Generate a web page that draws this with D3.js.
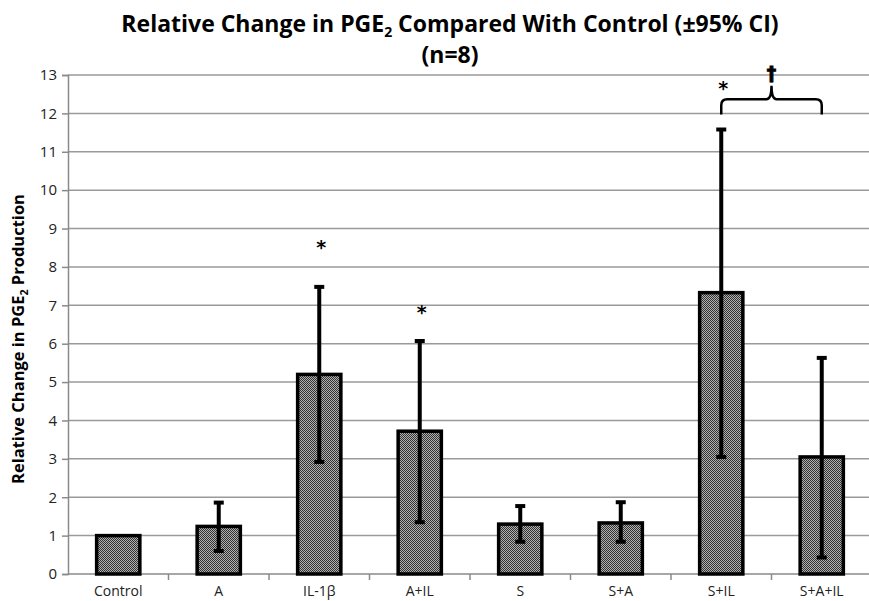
<!DOCTYPE html>
<html>
<head>
<meta charset="utf-8">
<script src="https://cdn.jsdelivr.net/npm/d3@7"></script>
<style>
  body { margin: 0; background: #fff; }
  svg { display: block; font-family: "Open Sans", "DejaVu Sans", sans-serif; }
</style>
</head>
<body>
<div id="chart"></div>
<script>
// Chart size and margins
const width = 869;
const height = 601;
const margin = {left: 68, right: -3, top: 75, bottom: 27};

// Data
const groups = ["Control", "A", "IL-1β", "A+IL", "S", "S+A", "S+IL", "S+A+IL"];
const means = [1.0, 1.24, 5.2, 3.72, 1.3, 1.33, 7.33, 3.05];
const ciLow = [1.0, 0.6, 2.92, 1.35, 0.84, 0.84, 3.05, 0.43];
const ciHigh = [1.0, 1.86, 7.48, 6.07, 1.77, 1.87, 11.58, 5.63];
const starAt = [null, null, 8.6, 6.9, null, null, 12.75, null];
const yTicks = d3.range(0, 14);

const svg = d3.select("#chart")
  .append("svg")
  .attr("width", width)
  .attr("height", height);

// Dotted fill pattern for the bars
const defs = svg.append("defs");
const pat = defs.append("pattern")
  .attr("id", "dots")
  .attr("width", 2)
  .attr("height", 2)
  .attr("patternUnits", "userSpaceOnUse");
pat.append("rect").attr("width", 2).attr("height", 2).attr("fill", "#b0b0b0");
pat.append("rect").attr("width", 1).attr("height", 1).attr("fill", "#333");
pat.append("rect").attr("x", 1).attr("y", 1).attr("width", 1).attr("height", 1).attr("fill", "#333");

/*
  Scales
*/
const yScale = d3.scaleLinear()
  .domain([0, 13])
  .range([height - margin.bottom, margin.top]);

const xScale = d3.scaleBand()
  .domain(d3.range(groups.length))
  .range([margin.left, width - margin.right])
  .paddingInner(0.57)
  .paddingOuter(0.285);

// band edges used for the category tick marks
const step = xScale.step();
const xStart = margin.left;

/*
  Gridlines and axes
*/
svg.append("g")
  .selectAll("line")
  .data(yTicks.filter(d => d > 0))
  .enter()
  .append("line")
  .attr("x1", margin.left)
  .attr("x2", width)
  .attr("y1", d => yScale(d))
  .attr("y2", d => yScale(d))
  .attr("stroke", "#9a9a9a")
  .attr("stroke-width", 1.5);

const yAxis = svg.append("g")
  .attr("transform", `translate(${margin.left},0)`)
  .call(d3.axisLeft(yScale).tickValues(yTicks).tickSize(6).tickPadding(5));
yAxis.select(".domain").attr("stroke", "#8a8a8a").attr("stroke-width", 1.5);
yAxis.selectAll(".tick line").attr("stroke", "#8a8a8a").attr("stroke-width", 1.5);
yAxis.selectAll(".tick text")
  .attr("font-size", "15px")
  .attr("fill", "#222")
  .attr("font-family", "Open Sans, sans-serif");

// x axis baseline with ticks between categories
const xBase = yScale(0);
svg.append("line")
  .attr("x1", margin.left)
  .attr("x2", width)
  .attr("y1", xBase)
  .attr("y2", xBase)
  .attr("stroke", "#8a8a8a")
  .attr("stroke-width", 1.5);

svg.append("g")
  .selectAll("line")
  .data(d3.range(1, groups.length + 1))
  .enter()
  .append("line")
  .attr("x1", i => xStart + i * step)
  .attr("x2", i => xStart + i * step)
  .attr("y1", xBase)
  .attr("y2", xBase + 6)
  .attr("stroke", "#8a8a8a")
  .attr("stroke-width", 1.5);

svg.append("g")
  .selectAll("text")
  .data(groups)
  .enter()
  .append("text")
  .attr("x", (d, i) => xScale(i) + xScale.bandwidth() / 2)
  .attr("y", 596)
  .attr("text-anchor", "middle")
  .attr("font-size", "14px")
  .attr("fill", "#222")
  .text(d => d);

/*
  Bars
*/
svg.selectAll(".bar")
  .data(means)
  .enter()
  .append("rect")
  .attr("class", "bar")
  .attr("x", (d, i) => xScale(i))
  .attr("y", d => yScale(d))
  .attr("width", xScale.bandwidth())
  .attr("height", d => yScale(0) - yScale(d))
  .attr("fill", "url(#dots)")
  .attr("stroke", "#000")
  .attr("stroke-width", 3.5);

/*
  Error bars (95% CI)
*/
const errs = groups.map((g, i) => ({i: i, lo: ciLow[i], hi: ciHigh[i]}))
  .filter(d => d.hi > d.lo);

const cx = i => xScale(i) + xScale.bandwidth() / 2;

svg.append("g")
  .selectAll("line")
  .data(errs)
  .enter()
  .append("line")
  .attr("x1", d => cx(d.i))
  .attr("x2", d => cx(d.i))
  .attr("y1", d => yScale(d.lo))
  .attr("y2", d => yScale(d.hi))
  .attr("stroke", "#000")
  .attr("stroke-width", 4);

// caps
["lo", "hi"].forEach(k => {
  svg.append("g")
    .selectAll("line")
    .data(errs)
    .enter()
    .append("line")
    .attr("x1", d => cx(d.i) - 5)
    .attr("x2", d => cx(d.i) + 5)
    .attr("y1", d => yScale(d[k]))
    .attr("y2", d => yScale(d[k]))
    .attr("stroke", "#000")
    .attr("stroke-width", 4);
});

/*
  Significance marks
*/
svg.append("g")
  .selectAll("text")
  .data(starAt.map((v, i) => ({i: i, v: v})).filter(d => d.v !== null))
  .enter()
  .append("text")
  .attr("x", d => cx(d.i) + 2)
  .attr("y", d => yScale(d.v) + 10)
  .attr("text-anchor", "middle")
  .attr("font-size", "19px")
  .attr("font-weight", "bold")
  .attr("font-family", "DejaVu Sans, sans-serif")
  .text("*");

// bracket between S+IL and S+A+IL
const bx1 = cx(6), bx2 = cx(7), bm = (bx1 + bx2) / 2;
const byLow = yScale(12.0) + 1, byMid = yScale(12.37), byTop = yScale(12.72);
svg.append("path")
  .attr("d", `M${bx1},${byLow} L${bx1},${byMid + 6} Q${bx1},${byMid} ${bx1 + 6},${byMid}` +
    ` L${bm - 5},${byMid} Q${bm},${byMid} ${bm},${byTop}` +
    ` Q${bm},${byMid} ${bm + 5},${byMid} L${bx2 - 6},${byMid} Q${bx2},${byMid} ${bx2},${byMid + 6} L${bx2},${byLow}`)
  .attr("fill", "none")
  .attr("stroke", "#000")
  .attr("stroke-width", 2.5);

svg.append("text")
  .attr("x", bm)
  .attr("y", byTop - 6)
  .attr("text-anchor", "middle")
  .attr("font-size", "19px")
  .attr("font-weight", "bold")
  .attr("stroke", "#000")
  .attr("stroke-width", 0.8)
  .attr("font-family", "DejaVu Sans, sans-serif")
  .text("†");

/*
  Titles
*/
const title = svg.append("text")
  .attr("x", 450)
  .attr("y", 32)
  .attr("text-anchor", "middle")
  .attr("font-size", "23px")
  .attr("font-weight", "bold");
title.append("tspan").text("Relative Change in PGE");
title.append("tspan").attr("font-size", "14px").attr("dy", 5).text("2");
title.append("tspan").attr("dy", -5).text(" Compared With Control (±95% CI)");

svg.append("text")
  .attr("x", 450)
  .attr("y", 63)
  .attr("text-anchor", "middle")
  .attr("font-size", "23px")
  .attr("font-weight", "bold")
  .text("(n=8)");

const ylab = svg.append("text")
  .attr("transform", `translate(24,339) rotate(-90)`)
  .attr("text-anchor", "middle")
  .attr("font-size", "16.5px")
  .attr("font-weight", "bold");
ylab.append("tspan").text("Relative Change in PGE");
ylab.append("tspan").attr("font-size", "10.5px").attr("dy", 4).text("2");
ylab.append("tspan").attr("dy", -4).text(" Production");
</script>
</body>
</html>
